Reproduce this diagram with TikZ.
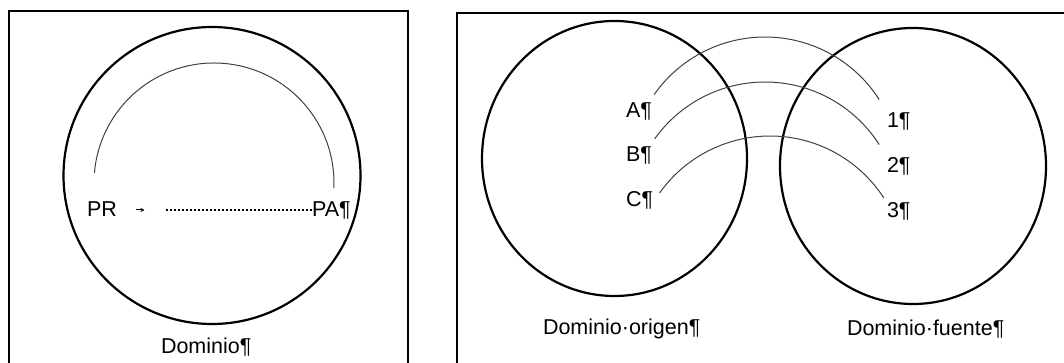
\documentclass[tikz,border=0pt]{standalone}
\usepackage{fontspec}
\setmainfont{Liberation Sans}
\usetikzlibrary{arrows.meta}
\begin{document}
\begin{tikzpicture}[x=1pt,y=1pt,
  frame/.style={draw=black,line width=2pt},
  domshape/.style={draw=black,line width=2.2pt},
  link/.style={draw=black!75,line width=1pt},
  lbl/.style={anchor=base west,inner sep=0pt,outer sep=0pt,font=\fontsize{21.5}{24}\selectfont}]
\useasboundingbox (0,0) rectangle (1064,363);
\clip (0,0) rectangle (1064,363);
% frames
\draw[frame] (9,-10) -- (9,352) -- (408,352) -- (408,-10);
\draw[frame] (457,-10) -- (457,349.7) -- (1075,349.7);
% left panel
\draw[domshape] (212,187.5) circle[radius=148.5];
\draw[link] ([shift={(175.2:120)}]214,180) arc[start angle=175.2,end angle=-2.4,radius=120];
\node[lbl] (pr) at (87,146) {PR};
\node[lbl] (pa) at (312,146) {PA¶};
\coordinate (arrs) at (136,153);
\coordinate (arre) at (144.5,153);
\draw[line width=1pt,-{Stealth[length=4pt,width=4pt]}] (arrs) -- (arre);
\coordinate (dots) at (166,153);
\draw[line width=1.6pt,dash pattern=on 1.6pt off 2.4pt] (dots) -- (pa.base west |- dots);
\node[lbl] (dom) at (161,9) {Dominio¶};
% right panel
\draw[domshape] (614.5,204.5) ellipse[x radius=132.5,y radius=137.5];
\draw[domshape] (913,197) ellipse[x radius=133,y radius=138];
\node[lbl] (a) at (626,245) {A¶};
\node[lbl] (b) at (626,201) {B¶};
\node[lbl] (c) at (626,156) {C¶};
\node[lbl] (n1) at (887,235) {1¶};
\node[lbl] (n2) at (887,190) {2¶};
\node[lbl] (n3) at (887,145) {3¶};
\draw[link] ([shift={(144.9:135.5)}]765,190.5) arc[start angle=144.9,end angle=32.6,radius=135.5];
\draw[link] ([shift={(144.5:135.5)}]765,145.5) arc[start angle=144.5,end angle=32.6,radius=135.5];
\draw[link] ([shift={(144.6:135.5)}]770,91.5) arc[start angle=144.6,end angle=32.9,radius=135.5];
\node[lbl] (dorig) at (543,28) {Dominio·origen¶};
\node[lbl] (dfue) at (847,27) {Dominio·fuente¶};
\end{tikzpicture}
\end{document}
